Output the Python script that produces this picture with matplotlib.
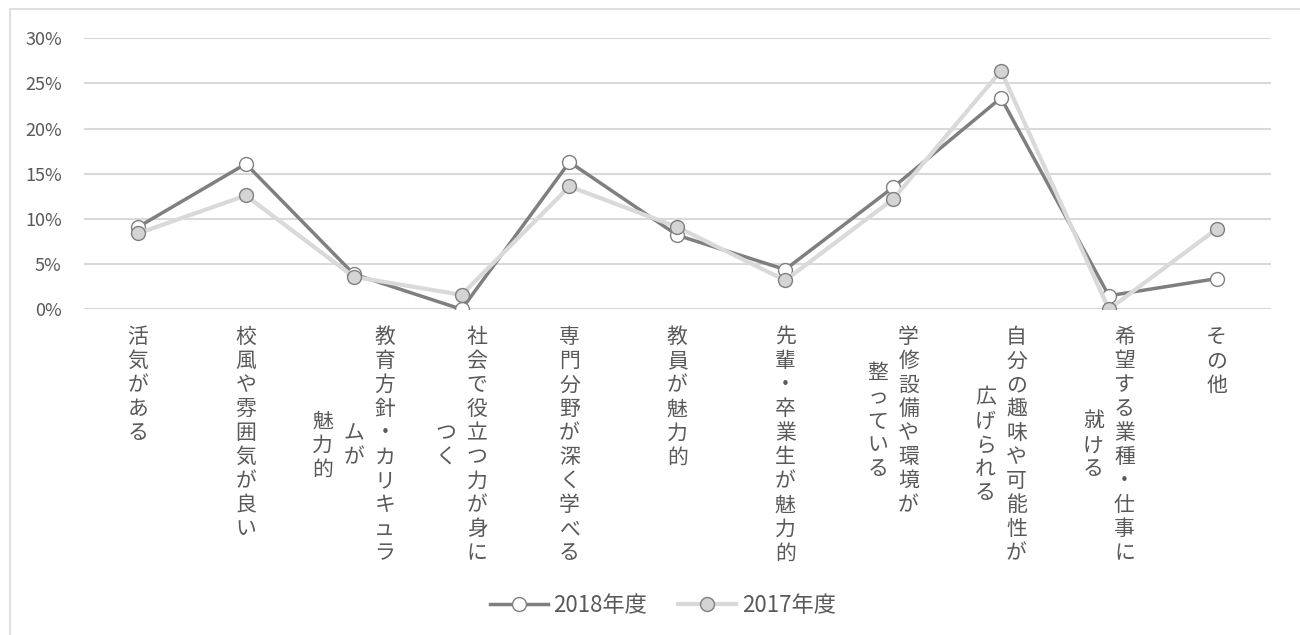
#!/usr/bin/env python
# 入学理由（2018年度 vs 2017年度）の折れ線グラフ
# %%
import numpy as np
import matplotlib
matplotlib.use("Agg")
import matplotlib.pyplot as plt
from matplotlib.patches import Rectangle
from matplotlib.ticker import PercentFormatter

plt.rcParams['font.family'] = ['Noto Sans CJK JP', 'DejaVu Sans']

# %% ---------------------------------
#           data
# ------------------------------------
# 改行 = 縦書きの列の区切り
categories = ["活気がある",
              "校風や雰囲気が良い",
              "教育方針・カリキュラ\nムが\n魅力的",
              "社会で役立つ力が身に\nつく",
              "専門分野が深く学べる",
              "教員が魅力的",
              "先輩・卒業生が魅力的",
              "学修設備や環境が\n整っている",
              "自分の趣味や可能性が\n広げられる",
              "希望する業種・仕事に\n就ける",
              "その他"]
series_names = ["2018年度", "2017年度"]
vals_2018 = [9.1, 16.1, 3.9, 0.0, 16.3, 8.2, 4.4, 13.5, 23.4, 1.5, 3.4]
vals_2017 = [8.4, 12.6, 3.6, 1.6, 13.6, 9.1, 3.2, 12.2, 26.4, 0.0, 8.9]
yticks = [0, 5, 10, 15, 20, 25, 30]

# %% ---------------------------------
#           figure
# ------------------------------------
txt_col = '#595959'
fig = plt.figure(figsize=(13, 6.35), dpi=100)
W, H = 1300, 635
ax = fig.add_axes([84/W, 1-309.3/H, (1270.7-84)/W, (309.3-38.3)/H])

# outer chart border (only top/left visible, it's cropped)
fig.patches.append(Rectangle((10/W, -1), 2, 1-9/H+1, transform=fig.transFigure,
                             fill=False, edgecolor='#d9d9d9', lw=1.2))

x = np.arange(len(categories))
ax.plot(x, vals_2018, color='#7f7f7f', lw=2.5, marker='o', ms=10,
        mfc='#ffffff', mec='#7f7f7f', mew=1.0, label=series_names[0], zorder=3)
ax.plot(x, vals_2017, color='#d9d9d9', lw=3.0, marker='o', ms=10,
        mfc='#d4d4d4', mec='#7f7f7f', mew=1.0, label=series_names[1], zorder=4)

ax.set_xlim(-0.5, len(categories)-0.5)
ax.set_ylim(0, 30)
ax.set_yticks(yticks)
ax.yaxis.set_major_formatter(PercentFormatter(decimals=0))
ax.grid(axis='y', color='#d9d9d9', lw=1.5, zorder=0)
ax.set_axisbelow(True)
for s in ax.spines.values():
    s.set_visible(False)
ax.tick_params(axis='y', length=0, pad=16, labelsize=13, labelcolor=txt_col)
ax.tick_params(axis='x', length=0)
ax.set_xticks(x)
ax.set_xticklabels([])

# vertical (tategaki) category labels, columns right-to-left, centred
step, colsp, top0 = 24, 31, -28
for i, lab in enumerate(categories):
    cols = lab.split("\n")
    m = max(len(c) for c in cols)
    cy = top0 - (m-1)*step/2
    n = len(cols)
    for j, col in enumerate(cols):
        dx = ((n-1)/2 - j)*colsp
        k = len(col)
        for c_i, ch in enumerate(col):
            dy = cy + ((k-1)/2 - c_i)*step
            ax.annotate(ch, xy=(i, 0), xycoords=ax.get_xaxis_transform(),
                        xytext=(dx, dy), textcoords='offset pixels',
                        ha='center', va='center', fontsize=15, color=txt_col,
                        annotation_clip=False)

fig.legend(loc='center', bbox_to_anchor=(663/W, 1-605/H), ncol=2, frameon=False,
           fontsize=16, labelcolor=txt_col, handlelength=2.6, handletextpad=0.25,
           columnspacing=1.4)

fig.savefig('out.png', dpi=100)
